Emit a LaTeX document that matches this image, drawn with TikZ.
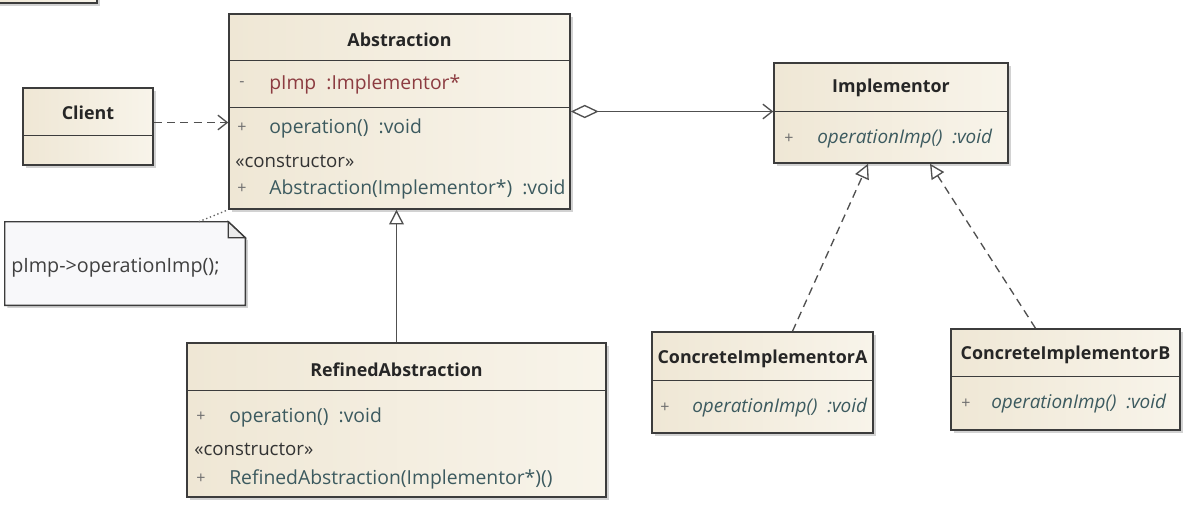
\documentclass[tikz,border=0pt]{standalone}
\usepackage{fontspec}
\setmainfont{Open Sans}
\usetikzlibrary{arrows.meta,shadows,calc}
\definecolor{cream}{RGB}{239,231,213}
\definecolor{creamlight}{RGB}{248,244,234}
\definecolor{attrred}{RGB}{140,60,65}
\definecolor{methteal}{RGB}{60,90,95}
\definecolor{visgray}{RGB}{110,110,110}
\definecolor{edge}{RGB}{60,60,60}
\definecolor{notefill}{RGB}{248,248,250}
\tikzset{
  cls/.style={draw=edge, line width=1.1pt, left color=cream, right color=creamlight, shading angle=90,
    drop shadow={shadow xshift=2pt, shadow yshift=-2pt, opacity=0.35}, inner sep=0pt},
  divider/.style={draw=edge, line width=0.9pt},
  title/.style={font=\fontsize{13.4}{15}\selectfont\bfseries, text=black!85},
  vis/.style={font=\fontsize{12}{14}\selectfont, text=visgray, anchor=west, inner sep=0pt},
  attr/.style={font=\fontsize{14.5}{16}\selectfont, text=attrred, anchor=west, inner sep=0pt},
  meth/.style={font=\fontsize{14.5}{16}\selectfont, text=methteal, anchor=west, inner sep=0pt},
  imeth/.style={font=\fontsize{14.2}{16}\selectfont\itshape, text=methteal, anchor=west, inner sep=0pt},
  stereo/.style={font=\fontsize{14}{16}\selectfont, text=black!80, anchor=west, inner sep=0pt},
  conn/.style={draw=edge!90, line width=1pt},
  dep/.style={conn, dashed, dash pattern=on 6pt off 4pt, -{Straight Barb[length=7pt,width=11pt,line width=1pt]}},
  assoc/.style={conn, {Diamond[open,length=21pt,width=10pt,line width=1pt,fill=white]}-{Straight Barb[length=7pt,width=11pt,line width=1pt]}},
  gen/.style={conn, -{Triangle[open,length=11pt,width=11pt,line width=1pt,fill=white]}},
  real/.style={conn, dashed, dash pattern=on 6pt off 4pt, -{Triangle[open,length=11pt,width=11pt,line width=1pt,fill=white]}},
  notelink/.style={draw=edge!80, line width=1pt, dotted},
}
\begin{document}
\begin{tikzpicture}[x=0.75pt,y=-0.75pt]
\useasboundingbox (0,0) rectangle (1200,508);
\fill[white] (0,0) rectangle (1200,508);

% top-left fragment
\node[cls, minimum width={110*0.75pt}, minimum height={40*0.75pt}] (frag) at (42,-17) {};

% Client
\node[cls, minimum width={130*0.75pt}, minimum height={77*0.75pt}] (client) at (88,126.5) {};
\draw[divider] ($(client.north west)+(0,48)$) -- ($(client.north east)+(0,48)$);
\node[title] (clientT) at ($(client.north)+(0,26)$) {Client};

% Abstraction
\node[cls, minimum width={341*0.75pt}, minimum height={195*0.75pt}] (abs) at (399.5,111.5) {};
\draw[divider] ($(abs.north west)+(0,47)$) -- ($(abs.north east)+(0,47)$);
\draw[divider] ($(abs.north west)+(0,94)$) -- ($(abs.north east)+(0,94)$);
\node[title] (absT) at ($(abs.north)+(0,27)$) {Abstraction};
\node[vis] (absv1) at (239,84) {-};
\node[attr] (absa1) at (269,84) {pImp\ \ :Implementor*};
\node[vis] (absv2) at (237,128) {+};
\node[meth] (absm1) at (269,128) {operation()\ \ :void};
\node[stereo] (abss) at (235,161) {«constructor»};
\node[vis] (absv3) at (237,189) {+};
\node[meth] (absm2) at (269,189) {Abstraction(Implementor*)\ \ :void};

% Implementor
\node[cls, minimum width={234*0.75pt}, minimum height={100*0.75pt}] (impl) at (891,113) {};
\draw[divider] ($(impl.north west)+(0,49)$) -- ($(impl.north east)+(0,49)$);
\node[title] (implT) at ($(impl.north)+(0,26)$) {Implementor};
\node[vis] (implv) at (784,139) {+};
\node[imeth] (implm) at (817,139) {operationImp()\ \ :void};

% Note
\node[minimum width={240*0.75pt}, minimum height={83*0.75pt}, inner sep=0pt] (note) at (125,263.5) {};
\draw[draw=edge, line width=1.1pt, fill=notefill, drop shadow={shadow xshift=2pt, shadow yshift=-2pt, opacity=0.35}]
  (note.north west) -- ($(note.north east)+(-17,0)$) -- ($(note.north east)+(0,16)$) -- (note.south east) -- (note.south west) -- cycle;
\draw[draw=edge, line width=1pt, fill=white!92!black]
  ($(note.north east)+(-17,0)$) -- ($(note.north east)+(-17,16)$) -- ($(note.north east)+(0,16)$) -- cycle;
\node[font=\fontsize{14.8}{16}\selectfont, text=black!75, anchor=west, inner sep=0pt] (noteT) at (11,268) {pImp->operationImp();};

% RefinedAbstraction
\node[cls, minimum width={419*0.75pt}, minimum height={154*0.75pt}] (ref) at (396.5,420) {};
\draw[divider] ($(ref.north west)+(0,48)$) -- ($(ref.north east)+(0,48)$);
\node[title] (refT) at ($(ref.north)+(0,27)$) {RefinedAbstraction};
\node[vis] (refv1) at (196,417) {+};
\node[meth] (refm1) at (229,417) {operation()\ \ :void};
\node[stereo] (refs) at (194,449) {«constructor»};
\node[vis] (refv2) at (196,479) {+};
\node[meth] (refm2) at (229,479) {RefinedAbstraction(Implementor*)()};

% ConcreteImplementorA
\node[cls, minimum width={221*0.75pt}, minimum height={101*0.75pt}] (ca) at (762.5,382.5) {};
\draw[divider] ($(ca.north west)+(0,49)$) -- ($(ca.north east)+(0,49)$);
\node[title] (caT) at ($(ca.north)+(0,28)$) {ConcreteImplementorA};
\node[vis] (cav) at (660,408) {+};
\node[imeth] (cam) at (692,408) {operationImp()\ \ :void};

% ConcreteImplementorB
\node[cls, minimum width={229*0.75pt}, minimum height={101*0.75pt}] (cb) at (1065.5,379.5) {};
\draw[divider] ($(cb.north west)+(0,48)$) -- ($(cb.north east)+(0,48)$);
\node[title] (cbT) at ($(cb.north)+(0,27)$) {ConcreteImplementorB};
\node[vis] (cbv) at (961,404) {+};
\node[imeth] (cbm) at (991,404) {operationImp()\ \ :void};

% connectors
\draw[dep] ($(client.east)+(0,-4)$) -- ($(client.east -| abs.west)+(0,-4)$);
\draw[assoc] (abs.east) -- (abs.east -| impl.west);
\draw[gen] (ref.north) -- (ref.north |- abs.south);
\coordinate (caTop) at ($(ca.north)+(30,0)$);
\coordinate (cbTop) at ($(cb.north)+(-30,0)$);
\draw[real] (caTop) -- ($(impl.south)+(-23,0)$);
\draw[real] (cbTop) -- ($(impl.south)+(39,0)$);
\draw[notelink] ($(note.north west)+(194,0)$) -- (abs.south west);
\end{tikzpicture}
\end{document}
